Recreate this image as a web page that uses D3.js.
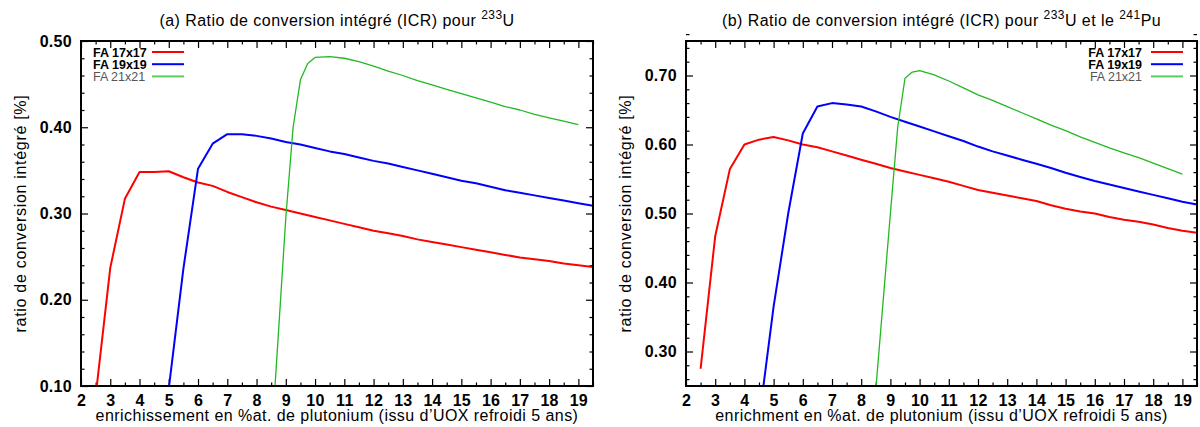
<!DOCTYPE html>
<html>
<head>
<meta charset="utf-8">
<script src="https://cdn.jsdelivr.net/npm/d3@7"></script>
<style>
  body { margin: 0; background: #fff; }
  svg { display: block; font-family: "Liberation Sans", Arial, Helvetica, sans-serif; }
</style>
</head>
<body>
<svg id="chart" width="1200" height="427"></svg>
<script>
// ---------- data (panel a : 233U) ----------
const aRedX   = [2.5,3,3.5,4,4.5,5,5.5,6,6.5,7,7.5,8,8.5,9,9.5,10,10.5,11,11.5,12,12.5,13,13.5,14,14.5,15,15.5,16,16.5,17,17.5,18,18.5,19,19.5];
const aRedY   = [0.088,0.237,0.317,0.348,0.348,0.349,0.342,0.336,0.332,0.325,0.319,0.313,0.308,0.304,0.300,0.296,0.292,0.288,0.284,0.280,0.277,0.274,0.270,0.267,0.264,0.261,0.258,0.255,0.252,0.249,0.247,0.245,0.242,0.240,0.238];
const aBlueX  = [5,5.5,6,6.5,7,7.5,8,8.5,9,9.5,10,10.5,11,11.5,12,12.5,13,13.5,14,14.5,15,15.5,16,16.5,17,17.5,18,18.5,19,19.5];
const aBlueY  = [0.097,0.236,0.352,0.381,0.392,0.392,0.390,0.387,0.383,0.380,0.376,0.372,0.369,0.365,0.361,0.358,0.354,0.350,0.346,0.342,0.338,0.335,0.331,0.327,0.324,0.321,0.318,0.315,0.312,0.309];
const aGreenX = [8.5,9,9.25,9.5,9.75,10,10.5,11,11.5,12,12.5,13,13.5,14,14.5,15,15.5,16,16.5,17,17.5,18,18.5,19];
const aGreenY = [0.03,0.295,0.400,0.455,0.474,0.481,0.482,0.480,0.476,0.471,0.465,0.460,0.454,0.449,0.444,0.439,0.434,0.429,0.424,0.420,0.415,0.411,0.407,0.403];

// ---------- data (panel b : 233U + 241Pu) ----------
const bRedX   = [2.5,3,3.5,4,4.5,5,5.5,6,6.5,7,7.5,8,8.5,9,9.5,10,10.5,11,11.5,12,12.5,13,13.5,14,14.5,15,15.5,16,16.5,17,17.5,18,18.5,19,19.5];
const bRedY   = [0.275,0.467,0.564,0.600,0.607,0.611,0.606,0.600,0.596,0.590,0.584,0.578,0.572,0.566,0.561,0.556,0.551,0.546,0.540,0.534,0.530,0.526,0.522,0.518,0.512,0.507,0.503,0.500,0.495,0.491,0.488,0.484,0.479,0.475,0.472];
const bBlueX  = [4.5,5,5.5,6,6.5,7,7.5,8,8.5,9,9.5,10,10.5,11,11.5,12,12.5,13,13.5,14,14.5,15,15.5,16,16.5,17,17.5,18,18.5,19,19.5];
const bBlueY  = [0.200,0.365,0.500,0.616,0.655,0.660,0.658,0.655,0.648,0.640,0.633,0.626,0.619,0.612,0.605,0.597,0.590,0.584,0.578,0.572,0.566,0.559,0.553,0.547,0.542,0.537,0.532,0.527,0.522,0.517,0.513];
const bGreenX = [8.5,9,9.25,9.5,9.75,10,10.5,11,11.5,12,12.5,13,13.5,14,14.5,15,15.5,16,16.5,17,17.5,18,18.5,19];
const bGreenY = [0.245,0.500,0.625,0.696,0.705,0.707,0.701,0.692,0.682,0.672,0.664,0.655,0.646,0.637,0.628,0.620,0.611,0.603,0.595,0.588,0.581,0.573,0.565,0.557];

// ---------- labels / ticks ----------
const seriesNames = ["FA 17x17", "FA 19x19", "FA 21x21"];
const xTicks  = [2,3,4,5,6,7,8,9,10,11,12,13,14,15,16,17,18,19];
const aYTicks = [0.10,0.20,0.30,0.40,0.50];
const bYTicks = [0.30,0.40,0.50,0.60,0.70];
const xDomain = [2, 19.5];
const aYDomain = [0.10, 0.50];
const bYDomain = [0.25, 0.75];

const svg = d3.select("#chart");
const styles = [
  {stroke: "#ff0000", width: 2,   legStroke: "#ff0000", legWidth: 2, txt: "#000", weight: "bold"},
  {stroke: "#0000ff", width: 2,   legStroke: "#0000ff", legWidth: 2, txt: "#000", weight: "bold"},
  {stroke: "#22b822", width: 1.3, legStroke: "#5ccc5c", legWidth: 2, txt: "#555", weight: "normal"}
];
const LS = "0.45px";

function panel(cfg) {
  const {left, right, top, bottom, yDomain, yTicks, series, title, xlabel, legendSide, id} = cfg;
  const x = d3.scaleLinear().domain(xDomain).range([left, right]);
  const y = d3.scaleLinear().domain(yDomain).range([bottom, top]);
  const g = svg.append("g");

  g.append("clipPath").attr("id", id).append("rect")
    .attr("x", left).attr("y", top).attr("width", right - left).attr("height", bottom - top);

  const xMinor = d3.range(Math.round(xDomain[0]*2), Math.round(xDomain[1]*2)+1).map(v => v/2).filter(v => !Number.isInteger(v));
  const yMinor = d3.range(Math.round(yDomain[0]*50), Math.round(yDomain[1]*50)+1).map(v => v/50)
      .filter(v => Math.abs(v*10 - Math.round(v*10)) > 1e-6);

  const tickStyle = sel => sel.selectAll(".domain").remove();

  g.append("g").attr("transform", `translate(0,${bottom})`)
    .call(d3.axisBottom(x).tickValues(xTicks).tickFormat(d3.format("d")).tickSize(-7).tickPadding(9)).call(tickStyle);
  g.append("g").attr("transform", `translate(0,${bottom})`)
    .call(d3.axisBottom(x).tickValues(xMinor).tickSize(-3.5).tickFormat("")).call(tickStyle);
  g.append("g").attr("transform", `translate(0,${top})`)
    .call(d3.axisTop(x).tickValues(xTicks).tickSize(-7).tickFormat("")).call(tickStyle);
  g.append("g").attr("transform", `translate(0,${top})`)
    .call(d3.axisTop(x).tickValues(xMinor).tickSize(-3.5).tickFormat("")).call(tickStyle);
  g.append("g").attr("transform", `translate(${left},0)`)
    .call(d3.axisLeft(y).tickValues(yTicks).tickFormat(d3.format(".2f")).tickSize(-7).tickPadding(9)).call(tickStyle);
  g.append("g").attr("transform", `translate(${left},0)`)
    .call(d3.axisLeft(y).tickValues(yMinor).tickSize(-3.5).tickFormat("")).call(tickStyle);
  g.append("g").attr("transform", `translate(${right},0)`)
    .call(d3.axisRight(y).tickValues(yTicks).tickSize(-7).tickFormat("")).call(tickStyle);
  g.append("g").attr("transform", `translate(${right},0)`)
    .call(d3.axisRight(y).tickValues(yMinor).tickSize(-3.5).tickFormat("")).call(tickStyle);

  g.selectAll(".tick line").attr("stroke", "#000").attr("stroke-width", 1.2);
  g.selectAll(".tick text").attr("fill", "#000").attr("font-size", 16).attr("font-weight", "bold")
    .attr("letter-spacing", "0.3px")
    .attr("font-family", '"Liberation Sans", Arial, sans-serif');

  const line = d3.line().x(d => x(d[0])).y(d => y(d[1]));
  series.forEach((s, i) => {
    const pts = s.xs.map((v, k) => [v, s.ys[k]]);
    g.append("path").datum(pts).attr("d", line)
      .attr("fill", "none").attr("stroke", styles[i].stroke).attr("stroke-width", styles[i].width)
      .attr("stroke-linejoin", "round")
      .attr("clip-path", `url(#${id})`);
  });

  g.append("rect").attr("x", left).attr("y", top).attr("width", right - left).attr("height", bottom - top)
    .attr("fill", "none").attr("stroke", "#000").attr("stroke-width", 2);

  seriesNames.forEach((name, i) => {
    const ly = 52 + i * 12.2;
    if (legendSide === "left") {
      g.append("text").attr("x", left + 12).attr("y", ly + 4.5).text(name)
        .attr("font-size", 12.5).attr("font-weight", styles[i].weight).attr("fill", styles[i].txt);
      g.append("line").attr("x1", left + 71).attr("x2", left + 103).attr("y1", ly).attr("y2", ly)
        .attr("stroke", styles[i].legStroke).attr("stroke-width", styles[i].legWidth);
    } else {
      g.append("text").attr("x", right - 55).attr("y", ly + 4.5).text(name).attr("text-anchor", "end")
        .attr("font-size", 12.5).attr("font-weight", styles[i].weight).attr("fill", styles[i].txt);
      g.append("line").attr("x1", right - 46).attr("x2", right - 14).attr("y1", ly).attr("y2", ly)
        .attr("stroke", styles[i].legStroke).attr("stroke-width", styles[i].legWidth);
    }
  });

  const cx = (left + right) / 2;
  const t = g.append("text").attr("x", cx).attr("y", 26).attr("text-anchor", "middle")
    .attr("font-size", 16).attr("letter-spacing", LS).attr("fill", "#000");
  title.forEach(part => {
    const ts = t.append("tspan").text(part.t);
    if (part.sup) ts.attr("font-size", 12).attr("baseline-shift", "60%");
  });

  g.append("text").attr("x", cx).attr("y", 421).attr("text-anchor", "middle")
    .attr("font-size", 16).attr("letter-spacing", LS).attr("fill", "#000").text(xlabel);
  g.append("text").attr("transform", `translate(${left - 55},${(top + bottom) / 2}) rotate(-90)`)
    .attr("text-anchor", "middle").attr("font-size", 16).attr("letter-spacing", "0.7px").attr("fill", "#000")
    .text("ratio de conversion intégré [%]");
}

panel({
  id: "clipA", left: 81, right: 593, top: 41, bottom: 386,
  yDomain: aYDomain, yTicks: aYTicks,
  series: [{xs: aRedX, ys: aRedY}, {xs: aBlueX, ys: aBlueY}, {xs: aGreenX, ys: aGreenY}],
  title: [{t: "(a) Ratio de conversion intégré (ICR) pour "}, {t: "233", sup: true}, {t: "U"}],
  xlabel: "enrichissement en %at. de plutonium (issu d’UOX refroidi 5 ans)",
  legendSide: "left"
});
panel({
  id: "clipB", left: 686, right: 1197, top: 41, bottom: 386,
  yDomain: bYDomain, yTicks: bYTicks,
  series: [{xs: bRedX, ys: bRedY}, {xs: bBlueX, ys: bBlueY}, {xs: bGreenX, ys: bGreenY}],
  title: [{t: "(b) Ratio de conversion intégré (ICR) pour "}, {t: "233", sup: true}, {t: "U et le "}, {t: "241", sup: true}, {t: "Pu"}],
  xlabel: "enrichment en %at. de plutonium (issu d’UOX refroidi 5 ans)",
  legendSide: "right"
});
</script>
</body>
</html>
